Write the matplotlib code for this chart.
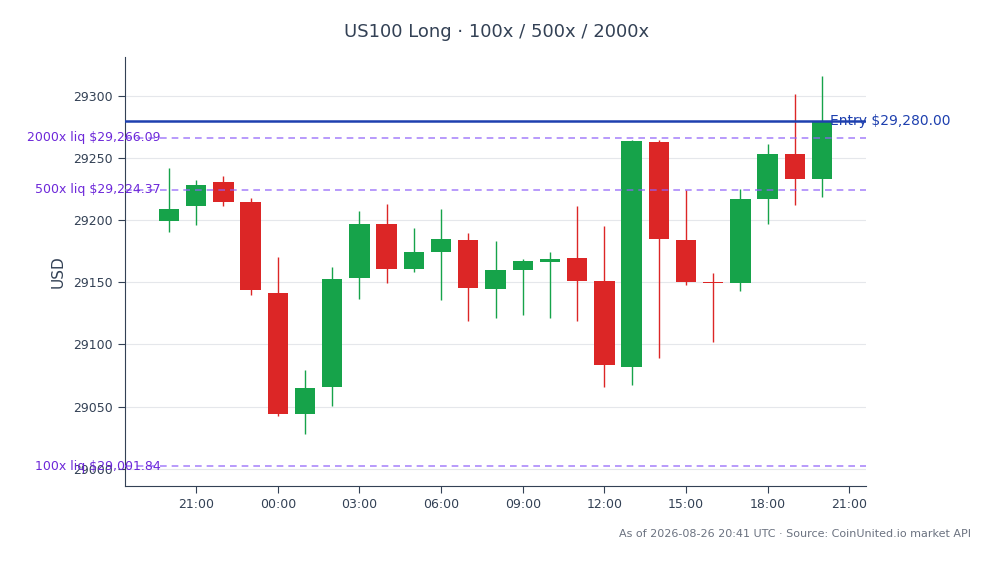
import matplotlib

matplotlib.use("Agg")

import matplotlib.dates as mdates
import matplotlib.pyplot as plt
import pandas as pd
from matplotlib.ticker import MultipleLocator

_INK = "#334155"
_MUTED = "#6b7280"
_GRID = "#e5e7eb"
_UP = "#16a34a"
_DOWN = "#dc2626"
_ENTRY = "#1e40af"
_LIQ = "#9061f9"
_LIQ_TEXT = "#6d28d9"

# hourly candles, 2026-08-25 20:00 -> 2026-08-26 20:00 UTC
start = "2026-08-25 20:00"
opens = [29199.0, 29211.0, 29230.6, 29214.8, 29141.6, 29044.1, 29065.5, 29153.2,
         29197.1, 29160.4, 29174.1, 29184.2, 29144.3, 29159.6, 29166.3, 29169.8,
         29151.3, 29081.9, 29263.0, 29184.2, 29150.5, 29149.1, 29216.7, 29253.1,
         29232.7]
highs = [29241.6, 29231.9, 29235.7, 29218.0, 29170.6, 29079.7, 29162.5, 29207.6,
         29213.2, 29193.9, 29209.2, 29189.9, 29182.9, 29169.0, 29174.6, 29211.0,
         29195.0, 29264.6, 29264.6, 29224.4, 29157.2, 29225.2, 29261.4, 29301.1,
         29315.5]
lows = [29190.1, 29195.8, 29211.0, 29139.5, 29042.2, 29028.3, 29050.8, 29136.8,
        29149.1, 29158.0, 29135.5, 29118.6, 29121.0, 29123.4, 29121.0, 29118.6,
        29065.5, 29067.2, 29088.9, 29147.5, 29102.3, 29142.7, 29196.6, 29212.4,
        29218.3]
closes = [29209.2, 29228.2, 29214.3, 29143.8, 29044.1, 29065.3, 29152.9, 29197.1,
          29160.4, 29174.6, 29185.0, 29145.1, 29160.1, 29167.4, 29169.0, 29150.8,
          29083.5, 29263.8, 29184.8, 29150.2, 29149.4, 29217.2, 29253.1, 29232.7,
          29280.0]

entry_price = 29280.00
liq_labels = ["2000x", "500x", "100x"]
liq_prices = [29266.09, 29224.37, 29001.84]

times = pd.date_range(start, periods=len(opens), freq="h")
x = mdates.date2num(times)

plt.rcParams["font.family"] = ["DejaVu Sans"]

fig = plt.figure(figsize=(9.94, 5.64), dpi=100)
ax = fig.add_axes([0.1258, 0.1383, 0.7454, 0.7607])

width = 0.75 / 24
colors = [_UP if c >= o else _DOWN for o, c in zip(opens, closes)]
ax.vlines(x, lows, highs, colors=colors, linewidth=1.0, zorder=2)
bottoms = [min(o, c) for o, c in zip(opens, closes)]
heights = [max(abs(c - o), 1.0) for o, c in zip(opens, closes)]
ax.bar(x, heights, bottom=bottoms, width=width, color=colors, linewidth=0, zorder=3)

ax.axhline(entry_price, color=_ENTRY, linewidth=1.8, zorder=4)
ax.text(0.952, entry_price, f"Entry ${entry_price:,.2f}", transform=ax.get_yaxis_transform(),
        ha="left", va="center", fontsize=10, color=_ENTRY, zorder=5)
for label, price in zip(liq_labels, liq_prices):
    ax.axhline(price, color=_LIQ, linewidth=1.2, linestyle=(0, (4, 3)), alpha=0.75, zorder=4)
    ax.text(0.048, price, f"{label} liq ${price:,.2f}", transform=ax.get_yaxis_transform(),
            ha="right", va="center", fontsize=9, color=_LIQ_TEXT, zorder=5)

lo = min(lows + liq_prices)
hi = max(highs + [entry_price])
pad = (hi - lo) * 0.05
ax.set_ylim(lo - pad, hi + pad)

ax.xaxis.set_major_locator(mdates.HourLocator(byhour=range(0, 24, 3)))
ax.xaxis.set_major_formatter(mdates.DateFormatter("%H:%M"))
ax.yaxis.set_major_locator(MultipleLocator(50))

ax.set_ylabel("USD", fontsize=11, color=_INK, labelpad=6)
ax.tick_params(colors=_INK, labelsize=9, length=5)
ax.grid(axis="y", color=_GRID, linewidth=0.8)
ax.set_axisbelow(True)
for side in ("top", "right"):
    ax.spines[side].set_visible(False)
for side in ("left", "bottom"):
    ax.spines[side].set_color(_INK)

fig.suptitle("US100 Long · 100x / 500x / 2000x", fontsize=13, color=_INK, y=0.96)
fig.text(0.977, 0.054, "As of 2026-08-26 20:41 UTC · Source: CoinUnited.io market API",
         ha="right", va="center", fontsize=8, color=_MUTED)

fig.savefig("out.png", dpi=100, facecolor="white")
